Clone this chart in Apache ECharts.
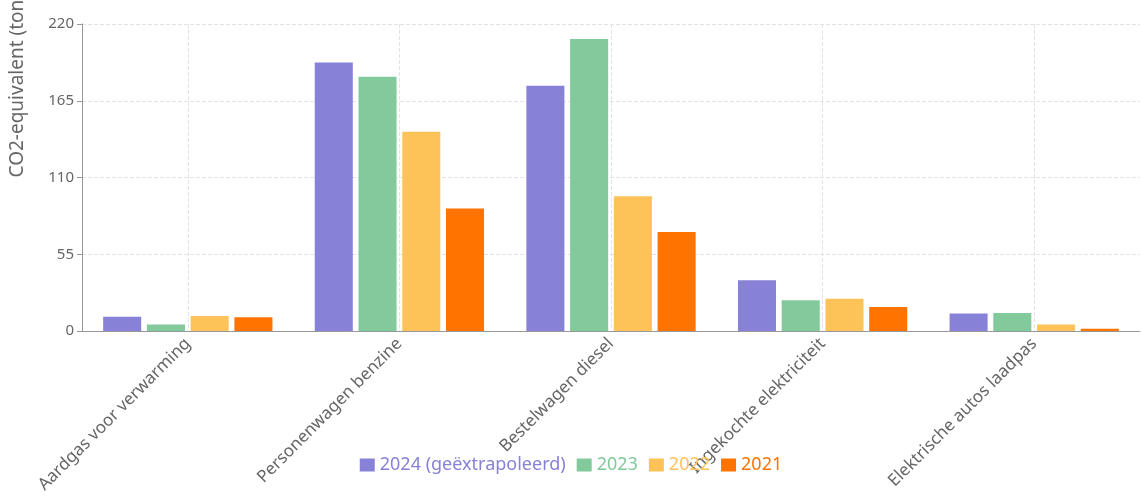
<!DOCTYPE html>
<html><head><meta charset="utf-8">
<script src="https://cdn.jsdelivr.net/npm/echarts@6/dist/echarts.min.js"></script>
<style>html,body{margin:0;padding:0;background:#fff}#c{width:1142px;height:502px}</style>
</head><body><div id="c"></div>
<script>
const categories = ["Aardgas voor verwarming","Personenwagen benzine","Bestelwagen diesel","Ingekochte elektriciteit","Elektrische autos laadpas"];
const seriesNames = ["2024 (geëxtrapoleerd)","2023","2022","2021"];
const v2024 = [10.3, 192.5, 175.8, 36.4, 12.5];
const v2023 = [4.6, 182.2, 209.3, 22.0, 12.9];
const v2022 = [10.8, 142.8, 96.6, 23.2, 4.6];
const v2021 = [9.8, 87.8, 71.0, 17.2, 1.7];
const yTicks = [0, 55, 110, 165, 220];
const colors = ["#8781d8","#82c99c","#fec358","#ff7300"];
const values = [v2024, v2023, v2022, v2021];
const font = "'Noto Sans', 'Open Sans', sans-serif";

const chart = echarts.init(document.getElementById('c'));
chart.setOption({
  animation: false,
  textStyle: {fontFamily: font},
  grid: {left: 82, right: 2, top: 24, bottom: 171, outerBoundsMode: 'none', containLabel: false},
  legend: {
    bottom: 23, left: 'center', itemWidth: 15, itemHeight: 13, itemGap: 11,
    icon: 'rect',
    textStyle: {fontSize: 18, fontFamily: font},
    data: seriesNames.map((n, i) => ({name: n, textStyle: {color: colors[i]}}))
  },
  xAxis: {
    type: 'category', data: categories,
    axisLine: {lineStyle: {color: '#999'}},
    axisTick: {alignWithLabel: true, length: 5, lineStyle: {color: '#999'}},
    axisLabel: {rotate: 45, color: '#666', fontSize: 17, margin: 10, interval: 0},
    splitLine: {show: true, alignWithLabel: true, lineStyle: {type: 'dashed', color: '#e3e3e3'}}
  },
  yAxis: {
    type: 'value', min: yTicks[0], max: yTicks[yTicks.length-1], interval: yTicks[1]-yTicks[0],
    name: 'CO2-equivalent (ton)', nameLocation: 'middle', nameRotate: 90, nameGap: 64,
    nameTextStyle: {align: 'left', verticalAlign: 'middle', color: '#666', fontSize: 19},
    axisLine: {show: true, lineStyle: {color: '#999'}},
    axisTick: {show: true, length: 5, lineStyle: {color: '#999'}},
    axisLabel: {color: '#666', fontSize: 15, margin: 8},
    splitLine: {lineStyle: {type: 'dashed', color: '#e3e3e3'}}
  },
  series: seriesNames.map((n, i) => ({
    name: n, type: 'bar', data: values[i],
    itemStyle: {color: colors[i]},
    barGap: '15%', barCategoryGap: '20%'
  }))
});
</script></body></html>
